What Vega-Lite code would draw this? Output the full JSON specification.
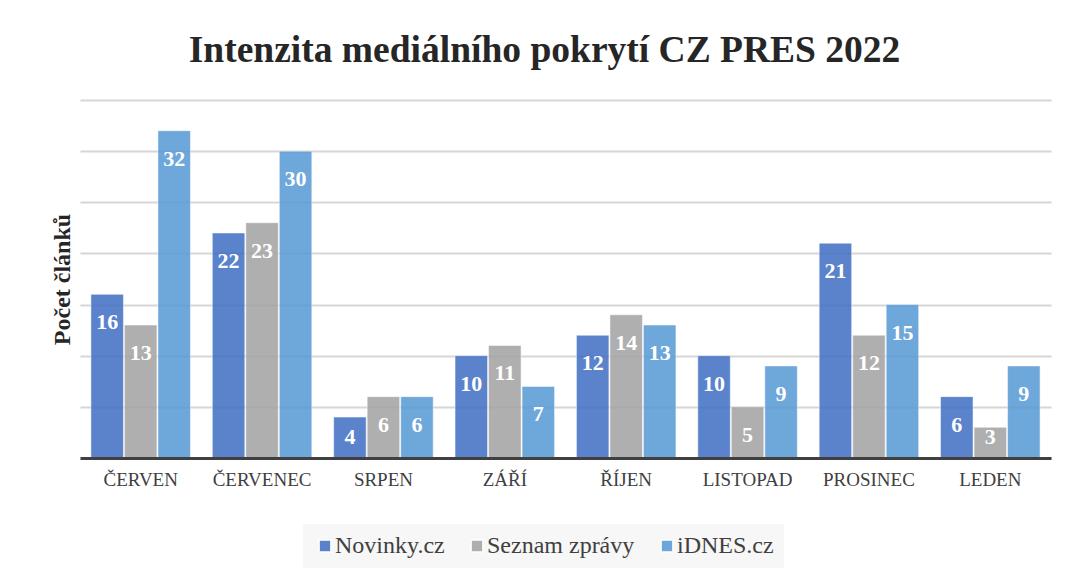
{
  "$schema": "https://vega.github.io/schema/vega-lite/v6.json",
  "width": 971,
  "height": 358,
  "autosize": {"type": "none"},
  "padding": {"left": 80, "top": 100, "right": 19, "bottom": 118},
  "background": "white",
  "view": {"stroke": null},
  "config": {
    "font": "Liberation Serif",
    "legend": {"labelFont": "Liberation Serif", "labelFontSize": 24}
  },
  "title": {
    "text": "Intenzita mediálního pokrytí CZ PRES 2022",
    "font": "Liberation Serif",
    "fontSize": 37.5,
    "fontWeight": "bold",
    "color": "#262626",
    "anchor": "middle",
    "frame": "group",
    "offset": 31,
    "dx": -21
  },
  "data": {
    "values": [
      {"month": "ČERVEN", "source": "Novinky.cz", "v": 16},
      {"month": "ČERVEN", "source": "Seznam zprávy", "v": 13},
      {"month": "ČERVEN", "source": "iDNES.cz", "v": 32},
      {"month": "ČERVENEC", "source": "Novinky.cz", "v": 22},
      {"month": "ČERVENEC", "source": "Seznam zprávy", "v": 23},
      {"month": "ČERVENEC", "source": "iDNES.cz", "v": 30},
      {"month": "SRPEN", "source": "Novinky.cz", "v": 4},
      {"month": "SRPEN", "source": "Seznam zprávy", "v": 6},
      {"month": "SRPEN", "source": "iDNES.cz", "v": 6},
      {"month": "ZÁŘÍ", "source": "Novinky.cz", "v": 10},
      {"month": "ZÁŘÍ", "source": "Seznam zprávy", "v": 11},
      {"month": "ZÁŘÍ", "source": "iDNES.cz", "v": 7},
      {"month": "ŘÍJEN", "source": "Novinky.cz", "v": 12},
      {"month": "ŘÍJEN", "source": "Seznam zprávy", "v": 14},
      {"month": "ŘÍJEN", "source": "iDNES.cz", "v": 13},
      {"month": "LISTOPAD", "source": "Novinky.cz", "v": 10},
      {"month": "LISTOPAD", "source": "Seznam zprávy", "v": 5},
      {"month": "LISTOPAD", "source": "iDNES.cz", "v": 9},
      {"month": "PROSINEC", "source": "Novinky.cz", "v": 21},
      {"month": "PROSINEC", "source": "Seznam zprávy", "v": 12},
      {"month": "PROSINEC", "source": "iDNES.cz", "v": 15},
      {"month": "LEDEN", "source": "Novinky.cz", "v": 6},
      {"month": "LEDEN", "source": "Seznam zprávy", "v": 3},
      {"month": "LEDEN", "source": "iDNES.cz", "v": 9}
    ]
  },
  "encoding": {
    "x": {
      "field": "month",
      "type": "nominal",
      "sort": ["ČERVEN", "ČERVENEC", "SRPEN", "ZÁŘÍ", "ŘÍJEN", "LISTOPAD", "PROSINEC", "LEDEN"],
      "scale": {"paddingInner": 0.18, "paddingOuter": 0.09},
      "axis": {
        "title": null,
        "labelAngle": 0,
        "labelFont": "Liberation Serif",
        "labelFontSize": 19,
        "labelColor": "#404040",
        "labelPadding": 12,
        "ticks": false,
        "domainColor": "#404040",
        "domainWidth": 3,
        "zindex": 1
      }
    },
    "xOffset": {
      "field": "source",
      "type": "nominal",
      "sort": ["Novinky.cz", "Seznam zprávy", "iDNES.cz"],
      "scale": {"paddingInner": 0.03, "paddingOuter": 0}
    },
    "y": {
      "field": "v",
      "type": "quantitative",
      "scale": {"domain": [0, 35], "nice": false},
      "axis": {
        "title": "Počet článků",
        "titleFont": "Liberation Serif",
        "titleFontSize": 24,
        "titleFontWeight": "bold",
        "titleColor": "#262626",
        "titlePadding": 6,
        "labels": false,
        "ticks": false,
        "domain": false,
        "grid": true,
        "values": [0, 5, 10, 15, 20, 25, 30, 35],
        "gridColor": "#D6D6D6",
        "gridWidth": 2
      }
    }
  },
  "layer": [
    {
      "mark": {"type": "bar", "opacity": 0.88, "stroke": "#ffffff", "strokeWidth": 1, "strokeOpacity": 0.5},
      "encoding": {
        "color": {
          "field": "source",
          "type": "nominal",
          "scale": {
            "domain": ["Novinky.cz", "Seznam zprávy", "iDNES.cz"],
            "range": ["#4472C4", "#A5A5A5", "#5B9BD5"]
          },
          "legend": {
            "title": null,
            "orient": "none",
            "legendX": 223,
            "legendY": 424,
            "direction": "horizontal",
            "fillColor": "#F7F7F7",
            "padding": 10,
            "symbolType": "square",
            "symbolSize": 140,
            "symbolOpacity": 0.88,
            "labelFont": "Liberation Serif",
            "labelFontSize": 24,
            "labelColor": "#404040",
            "labelOffset": -2,
            "columnPadding": 20,
            "labelLimit": 300
          }
        }
      }
    },
    {
      "mark": {
        "type": "text",
        "color": "#ffffff",
        "font": "Liberation Serif",
        "fontSize": 22,
        "fontWeight": "bold",
        "baseline": "alphabetic",
        "align": "center",
        "dy": {"expr": "min(35, datum.v * 10.23 - 14)"}
      },
      "encoding": {
        "text": {"field": "v", "type": "quantitative"}
      }
    }
  ]
}
